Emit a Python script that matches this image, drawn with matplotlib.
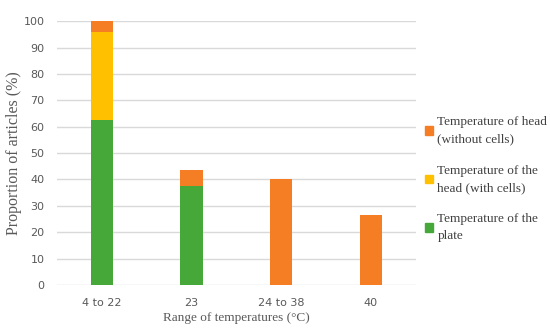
import matplotlib.pyplot as plt
from matplotlib.patches import Patch

categories = ['4 to 22', '23', '24 to 38', '40']
plate = [62.5, 37.5, 0, 0]
head_with_cells = [33.3, 0, 0, 0]
head_without_cells = [4.2, 6.25, 40, 26.7]

c_plate = '#47A83A'
c_with = '#FFC000'
c_without = '#F57D24'

plt.rcParams['font.family'] = ['Liberation Sans Narrow', 'DejaVu Sans']

fig = plt.figure(figsize=(5.5, 3.35), dpi=100)
ax = fig.add_axes([0.1036, 0.149, 0.6524, 0.788])

x = range(len(categories))
bottom2 = [a + b for a, b in zip(plate, head_with_cells)]
ax.bar(x, plate, width=0.25, color=c_plate, zorder=3)
ax.bar(x, head_with_cells, width=0.25, bottom=plate, color=c_with, zorder=3)
ax.bar(x, head_without_cells, width=0.25, bottom=bottom2, color=c_without, zorder=3)

ax.set_xlim(-0.5, 3.5)
ax.set_ylim(0, 100)
ax.set_yticks(range(0, 101, 10))
ax.set_xticks(list(x))
ax.set_xticklabels(categories)
ax.grid(axis='y', color='#d9d9d9', linewidth=1, zorder=0)
for s in ax.spines.values():
    s.set_visible(False)
ax.tick_params(length=0, labelsize=8, labelcolor='#595959', pad=9)

serif = ['Liberation Serif', 'DejaVu Serif']
ax.set_ylabel('Proportion of articles (%)', fontsize=11.5, color='#595959',
              family=serif, labelpad=1)
ax.set_xlabel('Range of temperatures (°C)', fontsize=9.5, color='#595959',
              family=serif, labelpad=3)

handles = [Patch(color=c_without), Patch(color=c_with), Patch(color=c_plate)]
labels = ['Temperature of head\n(without cells)',
          'Temperature of the\nhead (with cells)',
          'Temperature of the\nplate']
leg = fig.legend(handles, labels, loc='center left', bbox_to_anchor=(0.752, 0.465),
                 frameon=False, prop={'family': serif, 'size': 9.5},
                 labelcolor='#404040', handlelength=0.6, handleheight=0.6,
                 handletextpad=0.3, labelspacing=1.45)
for t in leg.get_texts():
    t.set_linespacing(1.6)
    t.set_verticalalignment('baseline')

fig.savefig('out.png', dpi=100)
